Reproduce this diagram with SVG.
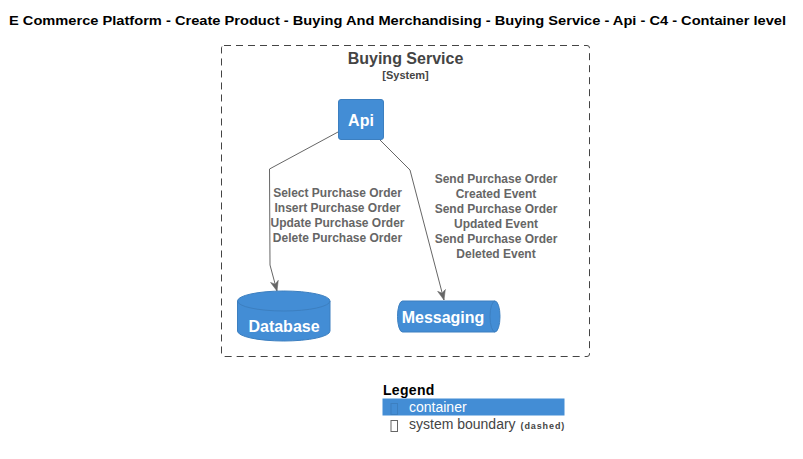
<svg xmlns="http://www.w3.org/2000/svg" width="803" height="459" viewBox="0 0 803 459">
<defs>
<style>
text{font-family:"Liberation Sans",Arial,sans-serif}
.title{font-size:13px;font-weight:bold;fill:#000}
.bname{font-size:16px;font-weight:bold;fill:#444}
.btype{font-size:11px;font-weight:bold;fill:#444}
.node{fill:#438DD5;stroke:#3C7FC0;stroke-width:1}
.nlabel{font-size:16px;font-weight:bold;fill:#fff}
.elabel{font-size:12px;font-weight:bold;fill:#666}
.edge{fill:none;stroke:#666;stroke-width:1}
</style>
<marker id="arr" viewBox="0 0 10 10" refX="10" refY="5" markerWidth="10" markerHeight="10" markerUnits="userSpaceOnUse" orient="auto">
<path d="M0,1 L10,5 L0,9 L3,5 Z" fill="#666" stroke="#666" stroke-width="0.5"/>
</marker>
</defs>
<rect width="803" height="459" fill="#fff"/>
<text class="title" x="9" y="25" textLength="777" lengthAdjust="spacingAndGlyphs">E Commerce Platform - Create Product - Buying And Merchandising - Buying Service - Api - C4 - Container level</text>
<g id="boundary">
<rect x="221.5" y="45.5" width="368" height="311" rx="2.5" fill="none" stroke="#444" stroke-width="1" stroke-dasharray="7,5"/>
<text class="bname" x="405.5" y="64" text-anchor="middle">Buying Service</text>
<text class="btype" x="405.5" y="79" text-anchor="middle">[System]</text>
</g>
<g id="connectors">
<path class="edge" d="M338,132 L269.5,169 L270,265 L277,291" marker-end="url(#arr)"/>
<path class="edge" d="M379,139 L410,170 L444,300" marker-end="url(#arr)"/>
<text class="elabel" text-anchor="middle"><tspan x="337.5" y="197">Select Purchase Order</tspan><tspan x="337.5" y="212">Insert Purchase Order</tspan><tspan x="337.5" y="227">Update Purchase Order</tspan><tspan x="337.5" y="242">Delete Purchase Order</tspan></text>
<text class="elabel" text-anchor="middle"><tspan x="496" y="183">Send Purchase Order</tspan><tspan x="496" y="198">Created Event</tspan><tspan x="496" y="213">Send Purchase Order</tspan><tspan x="496" y="228">Updated Event</tspan><tspan x="496" y="243">Send Purchase Order</tspan><tspan x="496" y="258">Deleted Event</tspan></text>
</g>
<g id="api">
<rect class="node" x="338.5" y="99.5" width="45" height="40" rx="2.5"/>
<text class="nlabel" x="361" y="126" text-anchor="middle">Api</text>
</g>
<g id="database">
<path class="node" d="M237.5,301 A46.25,10 0 0 1 330,301 L330,331 A46.25,10 0 0 1 237.5,331 Z"/>
<path d="M237.5,301 A46.25,10 0 0 0 330,301" fill="none" stroke="#3C7FC0" stroke-width="1"/>
<text class="nlabel" x="284" y="332" text-anchor="middle">Database</text>
</g>
<g id="messaging">
<path class="node" d="M402.5,301 L495,301 A5,15.5 0 0 1 495,332 L402.5,332 A5,15.5 0 0 1 402.5,301 Z"/>
<path d="M495,301 A5,15.5 0 0 0 495,332" fill="none" stroke="#3C7FC0" stroke-width="1"/>
<text class="nlabel" x="443" y="323" text-anchor="middle">Messaging</text>
</g>
<g id="legend">
<text x="383" y="395" font-size="14" font-weight="bold" fill="#000" letter-spacing="0.3">Legend</text>
<rect x="382.5" y="398.5" width="182" height="17" fill="#438DD5"/>
<rect x="391" y="403.5" width="6.5" height="11" fill="none" stroke="#3C7FC0" stroke-width="1"/>
<text x="409" y="412" font-size="14" fill="#fff">container</text>
<rect x="391" y="420.5" width="6.5" height="11" fill="none" stroke="#666" stroke-width="1"/>
<text x="409" y="429" font-size="14" fill="#444">system boundary <tspan x="520.5" font-size="9" font-weight="bold" letter-spacing="0.9">(dashed)</tspan></text>
</g>
</svg>
